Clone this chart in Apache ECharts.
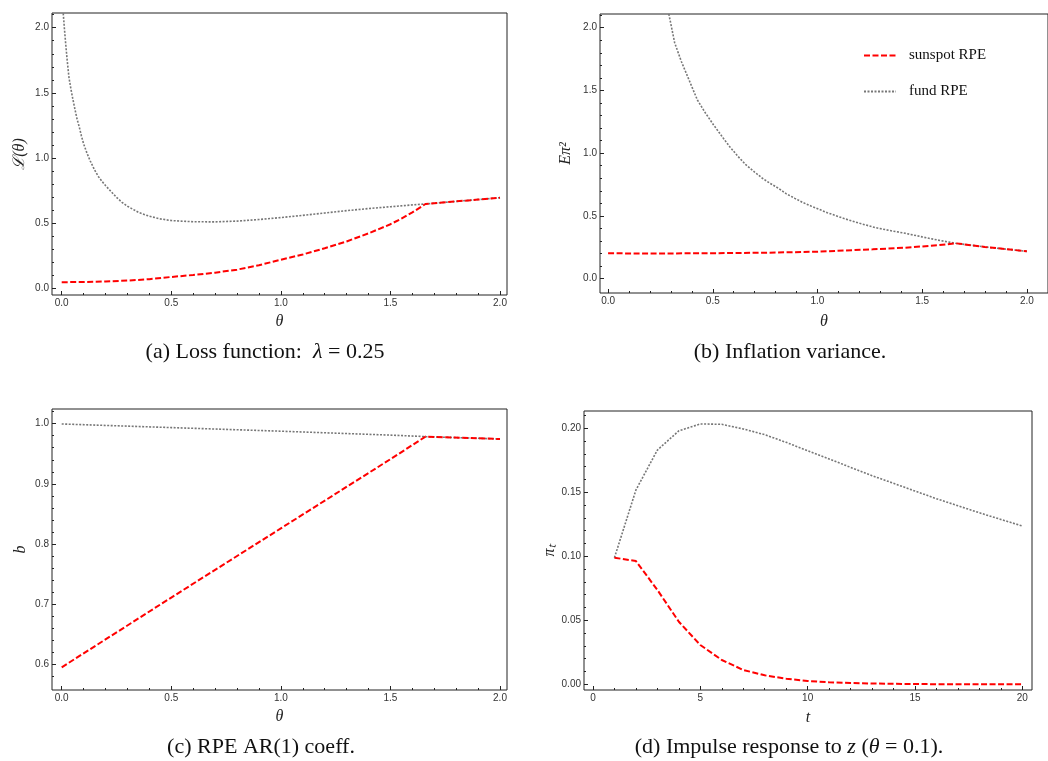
<!DOCTYPE html>
<html>
<head>
<meta charset="utf-8">
<script src="https://cdn.jsdelivr.net/npm/echarts@6/dist/echarts.min.js"></script>
<style>
  html, body { margin: 0; padding: 0; background: #fff; }
  #chart { width: 1048px; height: 761px; }
</style>
</head>
<body>
<div id="chart"></div>
<script>
// (a) loss function
const aSunTheta = [0, 0.1, 0.2, 0.3, 0.4, 0.5, 0.6, 0.7, 0.8, 0.9, 1.0, 1.1, 1.2, 1.3, 1.4, 1.5, 1.55, 1.6, 1.66, 1.8, 1.9, 2.0]
const aSun = [0.05, 0.051, 0.055, 0.062, 0.073, 0.09, 0.105, 0.123, 0.146, 0.18, 0.222, 0.262, 0.31, 0.362, 0.424, 0.494, 0.537, 0.585, 0.649, 0.669, 0.683, 0.697]
const aFundTheta = [0.007, 0.012, 0.018, 0.025, 0.033, 0.042, 0.05, 0.061, 0.07, 0.08, 0.09, 0.1, 0.115, 0.13, 0.15, 0.167, 0.185, 0.2, 0.225, 0.25, 0.275, 0.3, 0.35, 0.4, 0.45, 0.5, 0.6, 0.7, 0.8, 0.9, 1.0, 1.1, 1.2, 1.3, 1.4, 1.5, 1.6, 1.66, 1.8, 1.9, 2.0]
const aFund = [2.11, 2.0, 1.88, 1.75, 1.62, 1.53, 1.46, 1.37, 1.30, 1.24, 1.17, 1.11, 1.04, 0.98, 0.91, 0.86, 0.82, 0.79, 0.745, 0.70, 0.662, 0.632, 0.585, 0.555, 0.535, 0.522, 0.513, 0.512, 0.518, 0.53, 0.545, 0.562, 0.58, 0.598, 0.614, 0.628, 0.642, 0.649, 0.669, 0.683, 0.697]

// (b) inflation variance
const bSunTheta = [0, 0.25, 0.5, 0.75, 1.0, 1.264, 1.419, 1.574, 1.66, 1.8, 2.0]
const bSun = [0.202, 0.201, 0.203, 0.207, 0.215, 0.234, 0.247, 0.266, 0.282, 0.253, 0.218]
const bFundTheta = [0.29, 0.318, 0.35, 0.38, 0.4265, 0.465, 0.504, 0.55, 0.581, 0.62, 0.659, 0.7, 0.737, 0.775, 0.814, 0.85, 0.892, 0.93, 0.969, 1.047, 1.124, 1.202, 1.279, 1.357, 1.419, 1.5, 1.574, 1.66, 1.8, 2.0]
const bFund = [2.11, 1.88, 1.73, 1.61, 1.424, 1.32, 1.225, 1.12, 1.052, 0.975, 0.906, 0.85, 0.80, 0.758, 0.72, 0.678, 0.64, 0.607, 0.579, 0.526, 0.481, 0.441, 0.406, 0.38, 0.362, 0.333, 0.308, 0.282, 0.253, 0.218]

// (c) RPE AR(1) coefficient
const cSunTheta = [0, 0.5, 1.0, 1.5, 1.66, 2.0]
const cSun = [0.595, 0.711, 0.826, 0.941, 0.9785, 0.9745]
const cFundTheta = [0, 0.5, 1.0, 1.5, 1.66, 2.0]
const cFund = [0.9995, 0.9935, 0.9875, 0.981, 0.9785, 0.9745]

// (d) impulse response
const dT = [1, 2, 3, 4, 5, 6, 7, 8, 9, 10, 11, 12, 13, 14, 15, 16, 17, 18, 19, 20]
const dSun = [0.0989, 0.0963, 0.0737, 0.0489, 0.0307, 0.019, 0.0112, 0.007, 0.0044, 0.0026, 0.0016, 0.001, 0.0006, 0.0004, 0.0002, 0.0001, 0.0001, 0, 0, 0]
const dFund = [0.0989, 0.1518, 0.183, 0.198, 0.2034, 0.2031, 0.1995, 0.195, 0.189, 0.1825, 0.176, 0.1695, 0.163, 0.157, 0.151, 0.145, 0.1395, 0.134, 0.1288, 0.1237]

// tick values
const thetaTicks = [0, 0.5, 1.0, 1.5, 2.0]
const thetaMinor = [0.1, 0.2, 0.3, 0.4, 0.6, 0.7, 0.8, 0.9, 1.1, 1.2, 1.3, 1.4, 1.6, 1.7, 1.8, 1.9]
const abTicks = [0, 0.5, 1.0, 1.5, 2.0]
const abMinor = [0.1, 0.2, 0.3, 0.4, 0.6, 0.7, 0.8, 0.9, 1.1, 1.2, 1.3, 1.4, 1.6, 1.7, 1.8, 1.9, 2.1]
const cTicks = [0.6, 0.7, 0.8, 0.9, 1.0]
const cMinor = [0.58, 0.62, 0.64, 0.66, 0.68, 0.72, 0.74, 0.76, 0.78, 0.82, 0.84, 0.86, 0.88, 0.92, 0.94, 0.96, 0.98, 1.02]
const tTicks = [0, 5, 10, 15, 20]
const tMinor = [1, 2, 3, 4, 6, 7, 8, 9, 11, 12, 13, 14, 16, 17, 18, 19]
const piTicks = [0, 0.05, 0.1, 0.15, 0.2]
const piMinor = [0.01, 0.02, 0.03, 0.04, 0.06, 0.07, 0.08, 0.09, 0.11, 0.12, 0.13, 0.14, 0.16, 0.17, 0.18, 0.19, 0.21]

const pairs = (xs, ys) => xs.map((x, i) => [x, ys[i]])

const tickFont = { fontFamily: 'Liberation Sans', fontSize: 10, color: '#333' }
const nameFont = { fontFamily: 'Liberation Serif', fontStyle: 'italic', fontSize: 16, color: '#222' }

// major axis: labels + long ticks
function majorAx(grid, pos, min, max, ticks, digits, name, gap) {
  return {
    gridIndex: grid, position: pos, type: 'value', min: min, max: max,
    name: name, nameLocation: 'middle', nameGap: gap, nameTextStyle: nameFont,
    axisLine: { show: false, onZero: false },
    axisTick: { inside: true, length: 4, customValues: ticks, lineStyle: { color: '#222' } },
    axisLabel: Object.assign({ margin: 3, customValues: ticks, formatter: v => v.toFixed(digits) }, tickFont),
    splitLine: { show: false }
  }
}

// minor axis: short ticks only
function minorAx(grid, pos, min, max, ticks) {
  return {
    gridIndex: grid, position: pos, type: 'value', min: min, max: max,
    axisLine: { show: false, onZero: false },
    axisTick: { inside: true, length: 2, customValues: ticks, lineStyle: { color: '#222' } },
    axisLabel: { show: false },
    splitLine: { show: false }
  }
}

function sun(idx, data) {
  return {
    name: 'sunspot RPE', type: 'line', xAxisIndex: idx, yAxisIndex: idx, data: data,
    showSymbol: false, symbol: 'none', z: 3,
    lineStyle: { color: '#ff0000', width: 2, type: [6, 2.5] },
    itemStyle: { color: '#ff0000' }
  }
}

function fund(idx, data) {
  return {
    name: 'fund RPE', type: 'line', xAxisIndex: idx, yAxisIndex: idx, data: data,
    showSymbol: false, symbol: 'none', z: 2,
    lineStyle: { color: '#777777', width: 1.6, type: [2, 1.5] },
    itemStyle: { color: '#777777' }
  }
}

function caption(x, y, text) {
  return {
    type: 'text', x: x, y: y,
    style: {
      text: text, align: 'center', verticalAlign: 'middle',
      font: '22px "Liberation Serif"', fill: '#111',
      rich: { i: { fontFamily: 'Liberation Serif', fontStyle: 'italic', fontSize: 22, fill: '#111' } }
    }
  }
}

const frameStyle = { show: true, borderColor: '#222', borderWidth: 1, backgroundColor: 'transparent' }

const myChart = echarts.init(document.getElementById('chart'))

const option = {
  animation: false,
  backgroundColor: '#fff',
  grid: [
    Object.assign({ left: 52, top: 13, width: 455, height: 282 }, frameStyle),
    Object.assign({ left: 600, top: 14, width: 460, height: 279 }, frameStyle),
    Object.assign({ left: 52, top: 409, width: 455, height: 281 }, frameStyle),
    Object.assign({ left: 584, top: 411, width: 448, height: 279 }, frameStyle)
  ],
  xAxis: [
    majorAx(0, 'bottom', -0.0443, 2.0319, thetaTicks, 1, 'θ', 19),
    minorAx(0, 'bottom', -0.0443, 2.0319, thetaMinor),
    majorAx(1, 'bottom', -0.0386, 2.101, thetaTicks, 1, 'θ', 21),
    minorAx(1, 'bottom', -0.0386, 2.101, thetaMinor),
    majorAx(2, 'bottom', -0.0443, 2.0319, thetaTicks, 1, 'θ', 19),
    minorAx(2, 'bottom', -0.0443, 2.0319, thetaMinor),
    majorAx(3, 'bottom', -0.419, 20.452, tTicks, 0, 't', 20),
    minorAx(3, 'bottom', -0.419, 20.452, tMinor)
  ],
  yAxis: [
    majorAx(0, 'left', -0.0483, 2.1126, abTicks, 1, 'ℒ(θ)', 24),
    minorAx(0, 'left', -0.0483, 2.1126, abMinor),
    majorAx(1, 'left', -0.114, 2.109, abTicks, 1, 'Eπ²', 26),
    minorAx(1, 'left', -0.114, 2.109, abMinor),
    majorAx(2, 'left', 0.5573, 1.0244, cTicks, 1, 'b', 23),
    minorAx(2, 'left', 0.5573, 1.0244, cMinor),
    majorAx(3, 'left', -0.00445, 0.2135, piTicks, 2, 'πₜ', 26),
    minorAx(3, 'left', -0.00445, 0.2135, piMinor)
  ],
  legend: {
    data: ['sunspot RPE', 'fund RPE'],
    orient: 'vertical', left: 863, top: 48, padding: 0,
    itemWidth: 32, itemHeight: 14, itemGap: 21,
    itemStyle: { opacity: 0 },
    textStyle: { fontFamily: 'Liberation Serif', fontSize: 15, color: '#111', padding: [0, 0, 0, 8] }
  },
  graphic: [
    caption(265, 352, '(a) Loss function:  {i|λ} = 0.25'),
    caption(790, 352, '(b) Inflation variance.'),
    caption(261, 747, '(c) RPE AR(1) coeff.'),
    caption(789, 747, '(d) Impulse response to {i|z} ({i|θ} = 0.1).')
  ],
  series: [
    fund(0, pairs(aFundTheta, aFund)),
    sun(0, pairs(aSunTheta, aSun)),
    fund(2, pairs(bFundTheta, bFund)),
    sun(2, pairs(bSunTheta, bSun)),
    fund(4, pairs(cFundTheta, cFund)),
    sun(4, pairs(cSunTheta, cSun)),
    fund(6, pairs(dT, dFund)),
    sun(6, pairs(dT, dSun))
  ]
}

myChart.setOption(option)
</script>
</body>
</html>
